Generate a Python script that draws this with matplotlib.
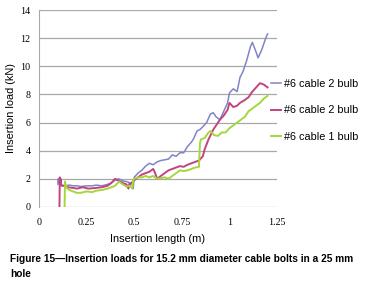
import matplotlib
matplotlib.use("Agg")
import matplotlib.pyplot as plt

# insertion length (m) / load (kN)
x_blue = [0.100, 0.102, 0.104, 0.107, 0.11, 0.12, 0.14, 0.16, 0.18, 0.20, 0.22, 0.25, 0.28, 0.30,
          0.33, 0.36, 0.38, 0.40, 0.42, 0.44, 0.46, 0.48, 0.49, 0.495, 0.50, 0.52, 0.54, 0.56, 0.58,
          0.60, 0.62, 0.64, 0.66, 0.68, 0.70, 0.72, 0.74, 0.76, 0.78, 0.80, 0.81, 0.83, 0.845, 0.86,
          0.88, 0.90, 0.915, 0.93, 0.95, 0.97, 0.99, 1.00, 1.02, 1.04, 1.055, 1.07, 1.09, 1.11, 1.12,
          1.14, 1.15, 1.17, 1.19, 1.20]
y_blue = [1.6, 2.0, 1.7, 1.9, 1.6, 1.55, 1.5, 1.55, 1.5, 1.5, 1.45, 1.5, 1.5, 1.55,
          1.5, 1.6, 1.7, 1.9, 2.0, 1.85, 1.8, 1.7, 1.75, 1.3, 2.1, 2.4, 2.6, 2.9, 3.1,
          3.0, 3.2, 3.3, 3.35, 3.4, 3.7, 3.6, 3.85, 3.85, 4.3, 4.6, 4.8, 5.4, 5.5, 5.7,
          6.0, 6.6, 6.7, 6.4, 6.2, 6.8, 7.4, 8.1, 8.4, 8.2, 9.2, 9.6, 10.4, 11.4, 11.7,
          11.0, 10.6, 11.2, 12.0, 12.3]

x_mag = [0.108, 0.110, 0.112, 0.114, 0.117, 0.12, 0.13, 0.15, 0.18, 0.20, 0.23, 0.26, 0.30, 0.33,
         0.36, 0.38, 0.40, 0.42, 0.44, 0.46, 0.47, 0.475, 0.48, 0.50, 0.52, 0.54, 0.56, 0.58, 0.60,
         0.61, 0.62, 0.64, 0.66, 0.68, 0.70, 0.72, 0.74, 0.76, 0.78, 0.80, 0.82, 0.84, 0.86, 0.87,
         0.89, 0.915, 0.95, 0.97, 0.99, 1.00, 1.02, 1.04, 1.055, 1.08, 1.10, 1.12, 1.14, 1.16, 1.18,
         1.20]
y_mag = [0.0, 2.1, 1.7, 2.0, 1.6, 1.5, 1.5, 1.4, 1.35, 1.3, 1.4, 1.3, 1.35, 1.4,
         1.5, 1.7, 2.0, 1.85, 1.7, 1.6, 1.3, 1.65, 1.6, 1.9, 2.1, 2.3, 2.4, 2.5, 2.7,
         2.4, 2.0, 2.2, 2.4, 2.6, 2.7, 2.8, 2.9, 2.85, 3.0, 3.1, 3.2, 3.3, 3.6, 4.1,
         4.8, 5.5, 6.2, 6.5, 6.9, 7.4, 7.1, 7.2, 7.4, 7.6, 7.8, 8.2, 8.5, 8.8, 8.7,
         8.5]

x_green = [0.135, 0.137, 0.14, 0.145, 0.15, 0.16, 0.18, 0.20, 0.22, 0.25, 0.28, 0.30, 0.33, 0.36,
           0.38, 0.40, 0.42, 0.44, 0.46, 0.48, 0.49, 0.495, 0.50, 0.52, 0.54, 0.56, 0.58, 0.60,
           0.62, 0.64, 0.66, 0.68, 0.70, 0.72, 0.74, 0.76, 0.78, 0.80, 0.82, 0.84, 0.845, 0.85,
           0.87, 0.89, 0.90, 0.92, 0.94, 0.96, 0.98, 1.00, 1.02, 1.04, 1.06, 1.08, 1.10, 1.12,
           1.14, 1.16, 1.18, 1.20]
y_green = [0.0, 1.8, 1.6, 1.4, 1.3, 1.2, 1.1, 1.0, 1.0, 1.1, 1.05, 1.15, 1.2, 1.3,
           1.4, 1.5, 1.8, 1.6, 1.45, 1.5, 1.3, 1.9, 2.0, 2.1, 2.1, 2.2, 2.1, 2.2,
           2.0, 2.05, 2.1, 2.0, 2.2, 2.4, 2.6, 2.55, 2.6, 2.7, 2.8, 2.85, 4.5, 4.8,
           4.9, 5.3, 5.4, 5.1, 5.05, 5.3, 5.3, 5.6, 5.8, 6.0, 6.2, 6.4, 6.8, 7.0,
           7.2, 7.4, 7.7, 7.9]

labels = ['#6 cable 2 bulb', '#6 cable 2 bulb', '#6 cable 1 bulb']
x_ticks = [0, 0.25, 0.5, 0.75, 1, 1.25]
x_ticklabels = ['0', '0.25', '0.5', '0.75', '1', '1.25']
y_ticks = [0, 2, 4, 6, 8, 10, 12, 14]

fig = plt.figure(figsize=(3.7, 2.96), dpi=100)
ax = fig.add_axes([0.105, 0.301, 0.644, 0.665])

ax.plot(x_blue, y_blue, color='#8084c6', lw=1.1, label=labels[0])
ax.plot(x_mag, y_mag, color='#c2447e', lw=1.4, label=labels[1])
ax.plot(x_green, y_green, color='#a5d63c', lw=1.4, label=labels[2])

ax.set_xlim(0, 1.25)
ax.set_ylim(0, 14)
ax.set_xticks(x_ticks)
ax.set_xticklabels(x_ticklabels, family='Liberation Serif', fontsize=7.2)
ax.set_yticks(y_ticks)
ax.set_yticklabels([str(v) for v in y_ticks], family='Liberation Serif', fontsize=7.2)
ax.tick_params(axis='x', length=0, pad=8)
ax.tick_params(axis='y', length=0, pad=6)
ax.yaxis.grid(True, color='#a8a8a8', lw=0.9)
ax.set_axisbelow(True)
for s in ['top', 'right', 'bottom']:
    ax.spines[s].set_visible(False)
ax.spines['left'].set_color('#a8a8a8')

ax.set_xlabel('Insertion length (m)', family='Liberation Sans', fontsize=7.9, labelpad=5)
ax.set_ylabel('Insertion load (kN)', family='Liberation Sans', fontsize=7.9, labelpad=3)

ax.legend(loc='center left', bbox_to_anchor=(0.935, 0.49), frameon=False,
          prop={'family': 'Liberation Sans', 'size': 7.8}, handlelength=0.9,
          handletextpad=0.3, labelspacing=1.55)

fig.text(0.027, 0.143, 'Figure 15\u2014Insertion loads for 15.2 mm diameter cable bolts in a 25 mm\nhole',
         family='Liberation Sans', fontweight='bold', fontsize=7.3, va='top', linespacing=1.65)

fig.savefig('out.png', dpi=100)
